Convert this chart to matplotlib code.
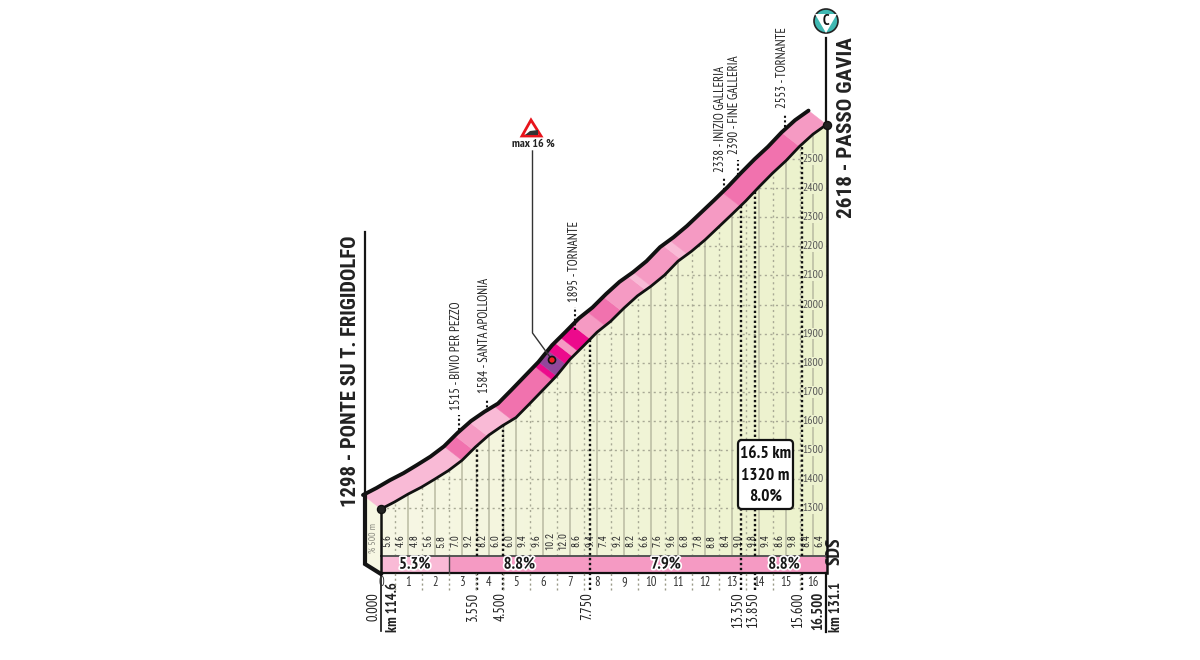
import numpy as np
import matplotlib
matplotlib.use("Agg")
import matplotlib.pyplot as plt
import matplotlib.patheffects as pe
from matplotlib.patches import Polygon, FancyBboxPatch, Circle
from matplotlib.transforms import Affine2D

NARROW = ['PT Sans Narrow', 'Roboto Condensed', 'DejaVu Sans']
HEAD = ['Roboto Condensed', 'PT Sans Narrow', 'DejaVu Sans']
plt.rcParams['font.family'] = NARROW

# ---- data ----
km = [0, .5, 1, 1.5, 2, 2.5, 3, 3.5, 4, 4.5, 5, 5.5, 6, 6.5, 7, 7.5, 8, 8.5, 9, 9.5, 10, 10.5,
      11, 11.5, 12, 12.5, 13, 13.5, 14, 14.5, 15, 15.5, 16, 16.5]
altitude = [1298, 1322, 1349, 1373, 1401, 1430, 1465, 1511, 1552, 1584, 1612, 1659, 1707, 1755,
            1812, 1858, 1905, 1942, 1988, 2030, 2063, 2101, 2149, 2183, 2222, 2266, 2310, 2355,
            2404, 2451, 2494, 2543, 2585, 2618]
grade_labels = ['5.6', '4.6', '4.8', '5.6', '5.8', '7.0', '9.2', '8.2', '6.0', '6.0', '9.4', '9.6', '10.2',
                '12.0', '8.6', '9.4', '7.4', '9.2', '8.2', '6.6', '7.6', '9.6', '6.8', '7.8', '8.8',
                '8.4', '9.0', '9.8', '9.4', '8.6', '9.8', '8.4', '6.4']
shade_breaks = [0, 3.0, 3.4, 3.95, 4.85, 6.35, 6.5, 6.85, 7.1, 7.3, 7.75, 8.3, 8.9, 9.8, 10, 11.1, 11.35, 13.3, 15.5, 16.5]
shade_names = ['L', 'D', 'M', 'L', 'D', 'X', 'P', 'X', 'M', 'X', 'M', 'D', 'M', 'L', 'M', 'L', 'M', 'D', 'M']
sector_edges = [0, 2.5, 7.75, 13.35, 16.5]
sector_labels = ['5.3%', '8.8%', '7.9%', '8.8%']
sector_shades = ['L', 'M', 'M', 'M']
point_km = [3.55, 4.5, 7.75, 13.35, 13.85, 15.6]
point_km_labels = ['3.550', '4.500', '7.750', '13.350', '13.850', '15.600']
point_label_x = [473, 501, 587, 738, 753, 798]
point_crosses_band = [False, False, True, True, False, False]
alt_ticks = list(range(1300, 2600, 100))
km_ticks = list(range(0, 17))
place_labels = ['1515 - BIVIO PER PEZZO', '1584 - SANTA APOLLONIA', '1895 - TORNANTE',
                '2338 - INIZIO GALLERIA', '2390 - FINE GALLERIA', '2553 - TORNANTE']
place_x = [456, 484, 574, 721, 735, 782]
place_bottom = [410, 393, 302, 172, 154, 108]
dot_x = [459, 487, 575, 724, 738, 785]
dot_y = [(430, 415), (412, 400), (330, 307), (190, 178), (175, 160), (127, 115)]

COL = {'L': '#F9BAD6', 'M': '#F59AC3', 'D': '#F172AE', 'X': '#EC0A8C', 'P': '#93479B'}

# ---- scales: x km, y metres ----
PX_KM, X0 = 27.0, 381.0
PX_M, Y1300 = 0.2912, 508.4
fig = plt.figure(figsize=(12, 6.6), dpi=100)
ax = fig.add_axes([0, 0, 1, 1])
ax.axis('off')
px = Affine2D().scale(1, -1).translate(0, 660)   # annotation layer in image pixels

km_a, alt_a = np.array(km, float), np.array(altitude, float)
DX, DY = -18 / PX_KM, 14 / PX_M      # road ribbon offset
band_top = 1300 - (556 - Y1300) / PX_M
band_bot = 1300 - (573.3 - Y1300) / PX_M
below = 1300 - (590 - Y1300) / PX_M

# ground fill with a soft left-to-right tint
poly_x = np.r_[km_a, km_a[-1], km_a[0]]
poly_y = np.r_[alt_a, band_top, band_top]
ground = Polygon(np.c_[poly_x, poly_y], closed=True, fc='none', ec='none', transform=ax.transData)
ax.add_patch(ground)
c0, c1 = np.array([247, 247, 229]) / 255, np.array([236, 242, 204]) / 255
grad = np.linspace(0, 1, 128)[None, :, None] * (c1 - c0) + c0
im = ax.imshow(grad, extent=[0, 16.5, band_top, 2700], aspect='auto', zorder=1, clip_path=ground)
ax.set_xlim(-X0 / PX_KM, (1200 - X0) / PX_KM)
ax.set_ylim(1300 - (660 - Y1300) / PX_M, 1300 + Y1300 / PX_M)

# grid
for k in km_ticks[1:]:
    ax.plot([k, k], [band_top, 2700], color='#B9BAA2', lw=1.1, zorder=2, clip_path=ground)
for k in km_ticks[:-1]:
    ax.plot([k + .5, k + .5], [band_top, 2700], color='#A8A995', lw=1, ls=(0, (1.5, 2.5)), zorder=2, clip_path=ground)
for a in alt_ticks:
    ax.plot([0, 16.5], [a, a], color='#A8A995', lw=1, ls=(0, (1.5, 2.5)), zorder=2, clip_path=ground)

# left wall
ax.add_patch(Polygon([(365, 497), (381, 508), (381, 573), (365, 563)], transform=px, fc='#F7F7E3', ec='none', zorder=1))
ax.plot([365, 365, 381], [495, 564, 574], transform=px, color='#151515', lw=3, zorder=6, solid_joinstyle='miter')
ax.plot([365, 365], [232, 495], transform=px, color='#151515', lw=1.6, zorder=6)

# ribbon
for s, e, name in zip(shade_breaks[:-1], shade_breaks[1:], shade_names):
    inner = km_a[(km_a > s) & (km_a < e)]
    xs = np.r_[s, inner, e]
    ys = np.interp(xs, km_a, alt_a)
    low = np.c_[xs, ys]
    up = np.c_[xs + DX, ys + DY]
    ax.add_patch(Polygon(np.r_[low, up[::-1]], closed=True, fc=COL[name], ec=COL[name], lw=.3, zorder=4))
ax.plot(km_a, alt_a, color='#111111', lw=2, zorder=5, solid_capstyle='round')
ax.plot(km_a + DX, alt_a + DY, color='#111111', lw=2.8, zorder=5, solid_capstyle='round')

# band at the bottom
for s, e, lab, name in zip(sector_edges[:-1], sector_edges[1:], sector_labels, sector_shades):
    ax.fill_between([s, e], band_bot, band_top, color=COL[name], lw=0, zorder=3)
    ax.text((s + e) / 2, (band_top + band_bot) / 2, lab, ha='center', va='center', fontsize=12, fontweight='bold',
            color='#1a1a1a', zorder=7, path_effects=[pe.withStroke(linewidth=2.5, foreground='white')])
ax.plot([0, 16.5], [band_top, band_top], color='#555555', lw=1.4, zorder=6)
ax.plot([0, 16.5], [band_bot, band_bot], color='#111111', lw=1.6, zorder=6)
ax.plot([2.5, 2.5], [band_bot, band_top], color='#444444', lw=1, zorder=6)

# frame lines
ax.plot([0, 0], [altitude[0], band_bot], color='#111111', lw=1.8, zorder=6)
ax.plot([16.5, 16.5], [altitude[-1], band_bot], color='#111111', lw=1.8, zorder=6)
ax.plot([381, 381], [573, 631], transform=px, color='#111111', lw=1.2, zorder=6)
ax.plot([826, 826], [573, 632], transform=px, color='#111111', lw=1.6, zorder=6)
ax.plot([826, 826], [38, 124], transform=px, color='#111111', lw=1.6, zorder=6)
ax.plot([0, 16.5], [altitude[0], altitude[-1]], ls='none', marker='o', ms=5.8, mfc='#222222', mec='#111111', zorder=8)

# bold dotted markers at the listed points
for k, lab, lx, crosses in zip(point_km, point_km_labels, point_label_x, point_crosses_band):
    top = np.interp(k, km_a, alt_a)
    if crosses:
        ax.plot([k, k], [below, top], color='#111111', lw=1.7, ls=(0, (1, 1.1)), zorder=6)
    else:
        ax.plot([k, k], [band_top, top], color='#111111', lw=1.7, ls=(0, (1, 1.1)), zorder=6)
        ax.plot([k, k], [below, band_bot], color='#111111', lw=1.7, ls=(0, (1, 1.1)), zorder=6)
    ax.text(lx, 592, lab, transform=px, rotation=90, ha='center', va='top', fontsize=10.5, color='#222222', zorder=7)

# gradient labels
for k, lab in zip(km_a[:-1] + .25, grade_labels):
    ax.text(k, 1300 - (541 - Y1300) / PX_M, lab, rotation=90, ha='center', va='center', fontsize=7.4, color='#333333', zorder=7, family=HEAD)

# km ticks
for k in km_ticks:
    ax.text(k, 1300 - (583 - Y1300) / PX_M, str(k), ha='center', va='center', fontsize=9, color='#333333', zorder=7)
    if k < 16:
        ax.plot([k + .5, k + .5], [below, band_bot], color='#999988', lw=1, ls=(0, (1.5, 2)), zorder=6)

# altitude labels
for a in alt_ticks:
    ax.text(16, a, str(a), ha='center', va='center', fontsize=8.4, color='#555555', zorder=5,
            bbox=dict(fc='#EDF2CF', ec='none', pad=.4))

# place labels
for lab, x, b, dx, (y0, y1) in zip(place_labels, place_x, place_bottom, dot_x, dot_y):
    ax.text(x, b, lab, transform=px, rotation=90, ha='center', va='bottom', fontsize=9.2, color='#222222', zorder=7)
    ax.plot([dx, dx], [y0, y1], transform=px, color='#111111', lw=1.5, ls=(0, (1, 1.2)), zorder=4)

# main titles
ax.text(351, 507, '1298 - PONTE SU T. FRIGIDOLFO', transform=px, rotation=90, ha='center', va='bottom', fontsize=14.9, fontweight='bold', color='#222222', family=HEAD)
ax.text(846, 218, '2618 - PASSO GAVIA', transform=px, rotation=90, ha='center', va='bottom', fontsize=15.2, fontweight='bold', color='#222222', family=HEAD)
ax.text(373, 592, '0.000', transform=px, rotation=90, ha='center', va='top', fontsize=10.5, color='#222222')
ax.text(393, 632, 'km 114.6', transform=px, rotation=90, ha='center', va='bottom', fontsize=10.5, fontweight='bold', color='#222222')
ax.text(818, 592, '16.500', transform=px, rotation=90, ha='center', va='top', fontsize=10.5, fontweight='bold', color='#222222')
ax.text(836, 632, 'km 131.1', transform=px, rotation=90, ha='center', va='bottom', fontsize=10.5, fontweight='bold', color='#222222')
ax.text(835, 551, 'SDS', transform=px, rotation=90, ha='center', va='center', fontsize=14, fontweight='bold', style='italic', color='#222222')
ax.text(373, 538, '% 500 m', transform=px, rotation=90, ha='center', va='center', fontsize=7, color='#8a8a80')

# summary box
ax.add_patch(FancyBboxPatch((741, 443), 49, 63, boxstyle='round,pad=3,rounding_size=4', transform=px, fc='white', ec='#111111', lw=1.6, zorder=9))
for y, t in zip([454, 476, 497], ['16.5 km', '1320 m', '8.0%']):
    ax.text(765.5, y, t, transform=px, ha='center', va='center', fontsize=12.5, fontweight='bold', color='#111111', zorder=10)

# steepest-point callout
ax.plot([532.5, 532.5, 550], [151, 333, 357], transform=px, color='#333333', lw=1, zorder=6)
ax.add_patch(Polygon([(531, 120), (522, 136), (541, 136)], closed=True, transform=px, fc='white', ec='#E8141C', lw=2, zorder=6))
ax.add_patch(Polygon([(525, 135), (538, 135), (538, 130), (530, 131)], closed=True, transform=px, fc='#333333', ec='none', zorder=7))
ax.text(533, 144, 'max 16 %', transform=px, ha='center', va='center', fontsize=8.6, fontweight='bold', color='#222222')
ax.add_patch(Circle((552, 360), 3.5, transform=px, fc='#EE2024', ec='#111111', lw=1.2, zorder=9))

# category badge
ax.add_patch(Circle((826, 21), 12, transform=px, fc='#3FB8B2', ec='#222222', lw=1.2, zorder=6))
ax.add_patch(Polygon([(815, 14), (837, 14), (826, 33)], closed=True, transform=px, fc='white', ec='none', zorder=7))
ax.text(826, 21, 'C', transform=px, ha='center', va='center', fontsize=10.5, fontweight='bold', color='#111111', zorder=8)

fig.savefig('out.png', dpi=100, facecolor='white')
